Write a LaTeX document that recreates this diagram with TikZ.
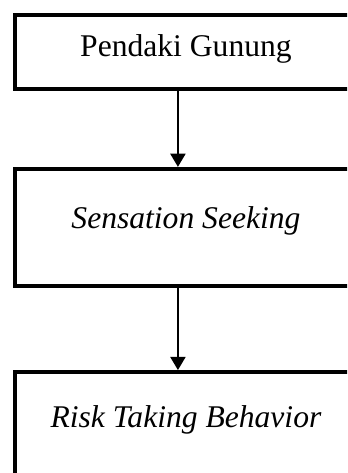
\documentclass[tikz,border=0pt]{standalone}
\usepackage{fontspec}
\setmainfont{Liberation Serif}
\usetikzlibrary{positioning, arrows.meta}

\tikzset{
    box/.style={draw, line width=1.5pt, rectangle, minimum width=130pt, inner sep=0pt, anchor=north west},
    flow/.style={line width=0.76pt, -{Triangle[width=5.7pt, length=5pt]}}
}

\begin{document}
\begin{tikzpicture}[font=\fontsize{12}{14}\selectfont]
    \useasboundingbox (0,0) rectangle (131.9pt,-179.7pt);
    \clip (0,0) rectangle (131.9pt,-179.7pt);

    \node[box, minimum height=28.1pt, label={[yshift=1.1pt]center:Pendaki Gunung}] (pendaki) at (4.9pt,-4.9pt) {};
    \node[box, minimum height=44.5pt, label={[yshift=2.3pt]center:\textit{Sensation Seeking}}, below=28.9pt of pendaki.south west, anchor=north west] (sensation) {};
    \node[box, minimum height=45.6pt, label={[yshift=4.5pt]center:\textit{Risk Taking Behavior}}, below=31.2pt of sensation.south west, anchor=north west] (risk) {};

    \coordinate (axis) at (67.6pt,0);
    \draw[flow] (pendaki.south -| axis) -- (sensation.north -| axis);
    \draw[flow] (sensation.south -| axis) -- (risk.north -| axis);
\end{tikzpicture}
\end{document}
